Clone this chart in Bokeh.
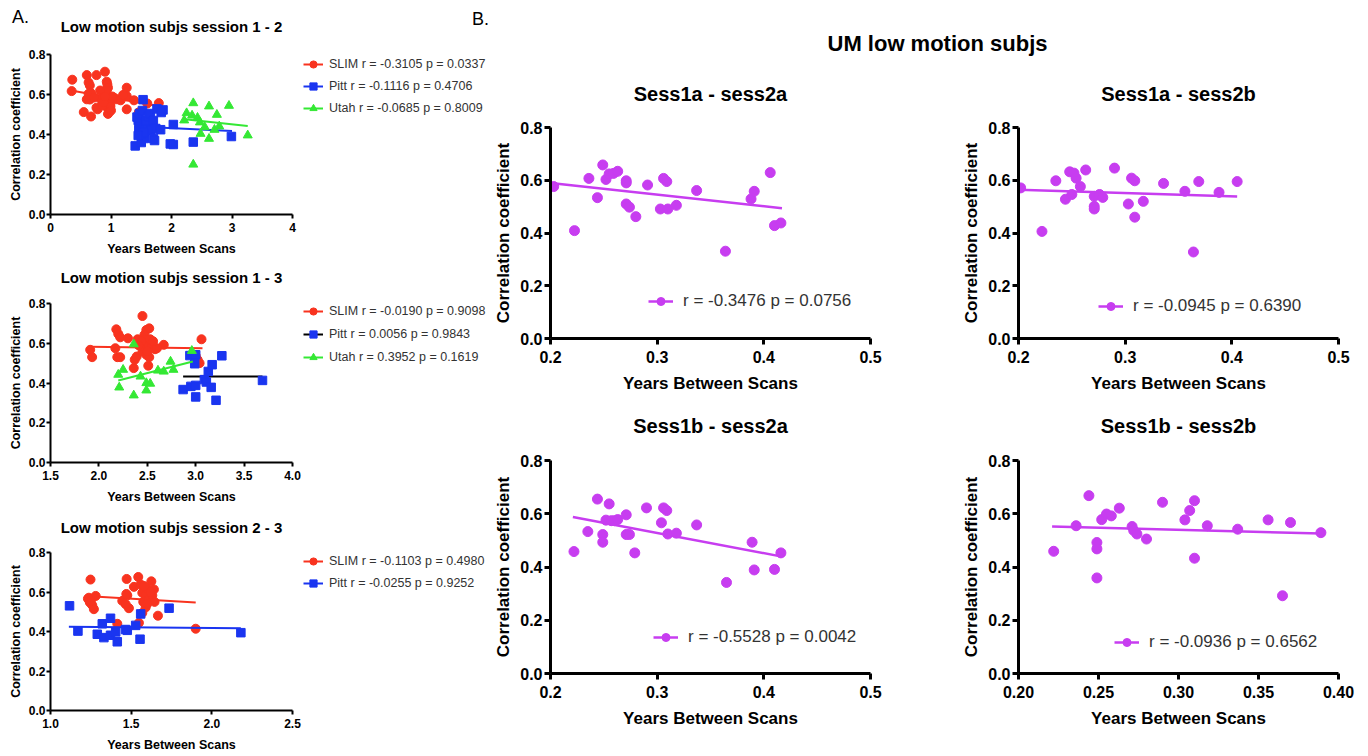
from bokeh.plotting import figure
from bokeh.layouts import row, column
from bokeh.models import Range1d, FixedTicker, Legend, LegendItem, Label
from bokeh.embed import file_html
from bokeh.resources import INLINE

FONT = "Liberation Sans"
RED = "#F8331F"
BLUE = "#1A35F0"
GREEN = "#34E834"
PURPLE = "#C73DF0"

# ---------------- Panel A, session 1 - 2 ----------------
a12_slim_x = [0.36, 0.35, 0.60, 0.76, 0.90, 0.63, 0.65, 0.93, 0.94, 0.95, 0.93, 0.63, 0.67, 0.60, 0.65,
              0.83, 0.82, 1.05, 1.10, 1.26, 1.26, 1.26, 1.38, 0.95, 0.99, 0.93, 0.99, 0.97, 0.95, 0.55,
              0.67, 0.78, 0.76, 0.86, 1.46, 1.79, 1.16, 0.88, 1.02, 0.72, 1.00, 0.90, 1.60, 1.20]
a12_slim_y = [0.674, 0.617, 0.697, 0.697, 0.714, 0.660, 0.645, 0.664, 0.651, 0.634, 0.620, 0.604, 0.607, 0.576, 0.575,
              0.577, 0.620, 0.584, 0.576, 0.634, 0.592, 0.526, 0.571, 0.570, 0.553, 0.537, 0.540, 0.512, 0.503, 0.512,
              0.490, 0.526, 0.534, 0.546, 0.511, 0.557, 0.571, 0.560, 0.590, 0.585, 0.520, 0.590, 0.555, 0.598]
a12_pitt_x = [1.40, 1.53, 1.43, 1.45, 1.47, 1.48, 1.46, 1.50, 1.49, 1.52, 1.55, 1.47, 1.52, 1.56, 1.60, 1.58, 1.62,
              1.65, 1.66, 1.70, 1.70, 1.72, 1.74, 1.76, 1.86, 1.82, 1.83, 2.03, 1.98, 2.03, 2.36, 2.99, 1.50, 1.54, 1.45]
a12_pitt_y = [0.343, 0.574, 0.487, 0.470, 0.455, 0.440, 0.425, 0.415, 0.400, 0.390, 0.380, 0.505, 0.520, 0.450, 0.437,
              0.470, 0.490, 0.505, 0.420, 0.380, 0.470, 0.370, 0.430, 0.528, 0.523, 0.424, 0.510, 0.450, 0.353, 0.350,
              0.362, 0.390, 0.360, 0.410, 0.395]
a12_utah_x = [2.36, 2.62, 2.95, 2.75, 2.25, 2.43, 2.21, 2.47, 2.71, 2.48, 2.62, 2.79, 3.26, 2.36, 2.55, 2.34]
a12_utah_y = [0.557, 0.541, 0.544, 0.499, 0.507, 0.484, 0.471, 0.461, 0.424, 0.404, 0.379, 0.441, 0.396, 0.250, 0.437, 0.495]
a12_slim_fit_x = [0.34, 1.82]
a12_slim_fit_y = [0.620, 0.540]
a12_pitt_fit_x = [1.43, 3.00]
a12_pitt_fit_y = [0.440, 0.418]
a12_utah_fit_x = [2.18, 3.26]
a12_utah_fit_y = [0.478, 0.443]
a12_labels = ["SLIM r = -0.3105 p = 0.0337", "Pitt r = -0.1116 p = 0.4706", "Utah r = -0.0685 p = 0.8009"]

# ---------------- Panel A, session 1 - 3 ----------------
a13_slim_x = [1.91, 1.93, 2.18, 2.20, 2.22, 2.17, 2.19, 2.22, 2.30, 2.40, 2.45, 2.36, 2.37, 2.39, 2.45, 2.49, 2.52,
              2.47, 2.48, 2.52, 2.53, 2.46, 2.55, 2.49, 2.52, 2.51, 2.58, 2.67, 2.60, 2.43, 3.00, 3.02, 3.04, 3.06,
              2.50, 2.44, 2.41, 2.56]
a13_slim_y = [0.567, 0.530, 0.670, 0.647, 0.630, 0.575, 0.530, 0.530, 0.625, 0.620, 0.737, 0.475, 0.517, 0.533, 0.558,
              0.667, 0.675, 0.642, 0.617, 0.600, 0.620, 0.583, 0.583, 0.542, 0.530, 0.487, 0.570, 0.592, 0.575, 0.597,
              0.537, 0.517, 0.500, 0.620, 0.560, 0.610, 0.590, 0.610]
a13_pitt_x = [2.94, 3.00, 2.99, 2.87, 2.95, 3.00, 3.00, 3.09, 3.11, 3.13, 3.17, 3.16, 3.21, 3.27, 3.69]
a13_pitt_y = [0.538, 0.542, 0.497, 0.367, 0.383, 0.388, 0.330, 0.417, 0.405, 0.458, 0.492, 0.378, 0.313, 0.537, 0.413]
a13_utah_x = [2.36, 2.20, 2.21, 2.25, 2.36, 2.43, 2.49, 2.53, 2.49, 2.61, 2.67, 2.74, 2.77, 2.96]
a13_utah_y = [0.595, 0.442, 0.378, 0.467, 0.338, 0.433, 0.400, 0.397, 0.363, 0.463, 0.458, 0.508, 0.467, 0.562]
a13_slim_fit_x = [1.91, 3.07]
a13_slim_fit_y = [0.582, 0.575]
a13_pitt_fit_x = [2.87, 3.69]
a13_pitt_fit_y = [0.433, 0.433]
a13_utah_fit_x = [2.20, 2.97]
a13_utah_fit_y = [0.413, 0.508]
a13_labels = ["SLIM r = -0.0190 p = 0.9098", "Pitt r = 0.0056 p = 0.9843", "Utah r = 0.3952 p = 0.1619"]

# ---------------- Panel A, session 2 - 3 ----------------
a23_slim_x = [1.248, 1.232, 1.244, 1.238, 1.259, 1.269, 1.280, 1.414, 1.445, 1.472, 1.476, 1.486, 1.466, 1.517,
              1.544, 1.559, 1.569, 1.575, 1.569, 1.548, 1.590, 1.590, 1.600, 1.610, 1.625, 1.631, 1.641, 1.645,
              1.666, 1.900, 1.580, 1.600, 1.470, 1.250, 1.620]
a23_slim_y = [0.663, 0.566, 0.547, 0.571, 0.533, 0.513, 0.580, 0.439, 0.555, 0.666, 0.583, 0.518, 0.538, 0.626,
              0.676, 0.638, 0.596, 0.550, 0.494, 0.444, 0.522, 0.583, 0.616, 0.563, 0.654, 0.583, 0.613, 0.550,
              0.480, 0.414, 0.630, 0.540, 0.590, 0.555, 0.600]
a23_pitt_x = [1.118, 1.170, 1.290, 1.321, 1.331, 1.372, 1.372, 1.404, 1.414, 1.476, 1.465, 1.528, 1.555, 1.559,
              1.735, 2.180]
a23_pitt_y = [0.530, 0.402, 0.386, 0.439, 0.369, 0.467, 0.381, 0.398, 0.348, 0.406, 0.410, 0.431, 0.361, 0.489,
              0.518, 0.394]
a23_slim_fit_x = [1.217, 1.90]
a23_slim_fit_y = [0.580, 0.547]
a23_pitt_fit_x = [1.114, 2.18]
a23_pitt_fit_y = [0.424, 0.417]
a23_labels = ["SLIM r = -0.1103 p = 0.4980", "Pitt r = -0.0255 p = 0.9252"]

# ---------------- Panel B ----------------
b1_x = [0.203, 0.2225, 0.236, 0.244, 0.249, 0.252, 0.255, 0.259, 0.263, 0.271, 0.271, 0.271, 0.274, 0.280,
        0.291, 0.303, 0.306, 0.309, 0.310, 0.318, 0.337, 0.364, 0.388, 0.391, 0.406, 0.410, 0.416]
b1_y = [0.576, 0.409, 0.607, 0.534, 0.658, 0.603, 0.624, 0.626, 0.634, 0.598, 0.590, 0.510, 0.498, 0.462,
        0.582, 0.491, 0.607, 0.595, 0.491, 0.505, 0.561, 0.331, 0.529, 0.558, 0.629, 0.428, 0.438]
b1_fit_x = [0.200, 0.417]
b1_fit_y = [0.590, 0.494]

b2_x = [0.202, 0.222, 0.235, 0.244, 0.248, 0.250, 0.252, 0.254, 0.258, 0.263, 0.271, 0.271, 0.271, 0.276,
        0.279, 0.290, 0.303, 0.306, 0.309, 0.309, 0.317, 0.336, 0.356, 0.364, 0.369, 0.388, 0.405]
b2_y = [0.571, 0.406, 0.598, 0.528, 0.632, 0.546, 0.627, 0.608, 0.576, 0.639, 0.539, 0.501, 0.491, 0.546,
        0.535, 0.646, 0.510, 0.608, 0.598, 0.460, 0.520, 0.588, 0.558, 0.328, 0.595, 0.554, 0.595]
b2_fit_x = [0.200, 0.405]
b2_fit_y = [0.564, 0.538]

b3_x = [0.222, 0.235, 0.244, 0.249, 0.249, 0.252, 0.255, 0.257, 0.260, 0.263, 0.271, 0.271, 0.274, 0.279,
        0.290, 0.304, 0.306, 0.309, 0.310, 0.318, 0.337, 0.365, 0.389, 0.391, 0.410, 0.416]
b3_y = [0.458, 0.533, 0.655, 0.522, 0.493, 0.576, 0.637, 0.574, 0.574, 0.578, 0.596, 0.522, 0.522, 0.453,
        0.622, 0.566, 0.622, 0.612, 0.524, 0.527, 0.558, 0.342, 0.493, 0.389, 0.391, 0.453]
b3_fit_x = [0.221, 0.417]
b3_fit_y = [0.588, 0.439]

b4_x = [0.222, 0.236, 0.244, 0.249, 0.249, 0.249, 0.252, 0.255, 0.258, 0.263, 0.271, 0.272, 0.274, 0.280,
        0.290, 0.304, 0.307, 0.310, 0.310, 0.318, 0.337, 0.356, 0.365, 0.370, 0.389]
b4_y = [0.459, 0.555, 0.668, 0.492, 0.468, 0.359, 0.578, 0.599, 0.592, 0.621, 0.552, 0.537, 0.524, 0.505,
        0.643, 0.577, 0.612, 0.649, 0.433, 0.555, 0.542, 0.577, 0.292, 0.567, 0.529]
b4_fit_x = [0.221, 0.389]
b4_fit_y = [0.552, 0.526]

b_titles = ["Sess1a - sess2a", "Sess1a - sess2b", "Sess1b - sess2a", "Sess1b - sess2b"]
b_labels = ["r = -0.3476 p = 0.0756", "r = -0.0945 p = 0.6390", "r = -0.5528 p = 0.0042", "r = -0.0936 p = 0.6562"]
a_titles = ["Low motion subjs session 1 - 2", "Low motion subjs session 1 - 3", "Low motion subjs session 2 - 3"]

y_ticks = [0.0, 0.2, 0.4, 0.6, 0.8]
y_tick_labels = ["0.0", "0.2", "0.4", "0.6", "0.8"]
a12_x_ticks = [0, 1, 2, 3, 4]
a12_x_tick_labels = ["0", "1", "2", "3", "4"]
a13_x_ticks = [1.5, 2.0, 2.5, 3.0, 3.5, 4.0]
a13_x_tick_labels = ["1.5", "2.0", "2.5", "3.0", "3.5", "4.0"]
a23_x_ticks = [1.0, 1.5, 2.0, 2.5]
a23_x_tick_labels = ["1.0", "1.5", "2.0", "2.5"]
b_x_ticks = [0.2, 0.3, 0.4, 0.5]
b_x_tick_labels = ["0.2", "0.3", "0.4", "0.5"]
b4_x_ticks = [0.20, 0.25, 0.30, 0.35, 0.40]
b4_x_tick_labels = ["0.20", "0.25", "0.30", "0.35", "0.40"]

XLAB = "Years Between Scans"
YLAB = "Correlation coefficient"


def blank(w, h, xr, yr):
    p = figure(width=w, height=h, x_range=Range1d(*xr), y_range=Range1d(*yr),
               toolbar_location=None, output_backend="svg", min_border=0,
               x_axis_location=None, y_axis_location=None)
    p.outline_line_color = None
    p.xgrid.visible = False
    p.ygrid.visible = False
    return p


def header(w, h, texts):
    p = blank(w, h, (0, w), (h, 0))
    for x, y, t, size, bold in texts:
        p.add_layout(Label(x=x, y=y, text=t, text_align="center", text_baseline="middle",
                           text_font=FONT, text_font_style="bold" if bold else "normal",
                           text_font_size=size, text_color="black"))
    return p


def panel(width, height, bl, bt, fw, fh, xr, xticks, xlabels, big):
    p = figure(width=width, height=height, x_range=Range1d(*xr), y_range=Range1d(0, 0.8),
               toolbar_location=None, output_backend="svg",
               min_border_left=bl, min_border_right=width - bl - fw,
               min_border_top=bt, min_border_bottom=height - bt - fh)
    p.outline_line_color = None
    p.xgrid.visible = False
    p.ygrid.visible = False
    p.xaxis.axis_label = XLAB
    p.yaxis.axis_label = YLAB
    p.xaxis.ticker = FixedTicker(ticks=xticks)
    p.xaxis.major_label_overrides = dict(zip(xticks, xlabels))
    p.yaxis.ticker = FixedTicker(ticks=y_ticks)
    p.yaxis.major_label_overrides = dict(zip(y_ticks, y_tick_labels))
    if big:
        tfs, lfs, lw, tout = "16px", "17px", 3, 6
    else:
        tfs, lfs, lw, tout = "12px", "12.5px", 2, 4
    for ax in list(p.xaxis) + list(p.yaxis):
        ax.axis_line_width = lw
        ax.axis_line_color = "black"
        ax.major_tick_line_width = lw
        ax.major_tick_line_color = "black"
        ax.major_tick_in = 0
        ax.major_tick_out = tout
        ax.minor_tick_line_color = None
        ax.major_label_text_font = FONT
        ax.major_label_text_font_style = "bold"
        ax.major_label_text_font_size = tfs
        ax.major_label_text_color = "black"
        ax.axis_label_text_font = FONT
        ax.axis_label_text_font_style = "bold"
        ax.axis_label_text_font_size = lfs
        ax.axis_label_text_color = "black"
    if big:
        p.xaxis.major_label_standoff = 6
        p.yaxis.major_label_standoff = 2
        p.xaxis.axis_label_standoff = 8
        p.yaxis.axis_label_standoff = 4
    else:
        p.xaxis.major_label_standoff = 4
        p.yaxis.major_label_standoff = 1
        p.xaxis.axis_label_standoff = 7
        p.yaxis.axis_label_standoff = 3
    return p


def one_legend(p, label, renderers, x, y, fs, gw, gh, standoff):
    leg = Legend(items=[LegendItem(label=label, renderers=renderers)], location=(x, y),
                 padding=0, margin=0, spacing=0, glyph_width=gw, glyph_height=gh,
                 label_height=gh, label_standoff=standoff, border_line_color=None,
                 background_fill_alpha=0, label_text_font=FONT, label_text_font_size=fs,
                 label_text_color="#333333")
    p.add_layout(leg)


def legend_fig(w, h, entries):
    # legend keys only: the series are re-plotted here far outside the visible range
    lf = blank(w, h, (100, 101), (100, 101))
    for label, xs, ys, fx, fy, color, marker, line_color, ypos in entries:
        lr = lf.line(fx, fy, line_color=line_color, line_width=2)
        sr = lf.scatter(xs, ys, marker=marker, size=7, fill_color=color, line_color=color)
        one_legend(lf, label, [lr, sr], 1, ypos, "12.5px", 20, 18, 6)
    return lf


def series(p, xs, ys, fx, fy, color, marker, size, lw, line_color=None):
    lr = p.line(fx, fy, line_color=line_color or color, line_width=lw)
    sr = p.scatter(xs, ys, marker=marker, size=size, fill_color=color, line_color=color)
    return [lr, sr]


# ---------------- Left column (Panel A) ----------------
LW = 490
PW = 302
GW = LW - PW

ha1 = header(LW, 40, [(20, 16, "A.", "18px", False), (480, 18, "B.", "18px", False),
                      (171, 26, a_titles[0], "15px", True)])
pa1 = panel(PW, 218, 50, 14, 242, 160, (0, 4), a12_x_ticks, a12_x_tick_labels, False)
series(pa1, a12_slim_x, a12_slim_y, a12_slim_fit_x, a12_slim_fit_y, RED, "circle", 9, 2)
series(pa1, a12_pitt_x, a12_pitt_y, a12_pitt_fit_x, a12_pitt_fit_y, BLUE, "square", 8.5, 2)
series(pa1, a12_utah_x, a12_utah_y, a12_utah_fit_x, a12_utah_fit_y, GREEN, "triangle", 9, 2)
lg1 = legend_fig(GW, 218, [
    (a12_labels[0], a12_slim_x, a12_slim_y, a12_slim_fit_x, a12_slim_fit_y, RED, "circle", RED, 141),
    (a12_labels[1], a12_pitt_x, a12_pitt_y, a12_pitt_fit_x, a12_pitt_fit_y, BLUE, "square", BLUE, 119),
    (a12_labels[2], a12_utah_x, a12_utah_y, a12_utah_fit_x, a12_utah_fit_y, GREEN, "triangle", GREEN, 97)])

ha2 = header(LW, 32, [(171, 19, a_titles[1], "15px", True)])
pa2 = panel(PW, 216, 50, 13, 242, 160, (1.5, 4.0), a13_x_ticks, a13_x_tick_labels, False)
series(pa2, a13_slim_x, a13_slim_y, a13_slim_fit_x, a13_slim_fit_y, RED, "circle", 9, 2)
series(pa2, a13_pitt_x, a13_pitt_y, a13_pitt_fit_x, a13_pitt_fit_y, BLUE, "square", 8.5, 2, "black")
series(pa2, a13_utah_x, a13_utah_y, a13_utah_fit_x, a13_utah_fit_y, GREEN, "triangle", 9, 2)
lg2 = legend_fig(GW, 216, [
    (a13_labels[0], a13_slim_x, a13_slim_y, a13_slim_fit_x, a13_slim_fit_y, RED, "circle", RED, 142),
    (a13_labels[1], a13_pitt_x, a13_pitt_y, a13_pitt_fit_x, a13_pitt_fit_y, BLUE, "square", "black", 119),
    (a13_labels[2], a13_utah_x, a13_utah_y, a13_utah_fit_x, a13_utah_fit_y, GREEN, "triangle", GREEN, 96)])

ha3 = header(LW, 32, [(171, 21, a_titles[2], "15px", True)])
pa3 = panel(PW, 216, 50, 14, 242, 160, (1.0, 2.5), a23_x_ticks, a23_x_tick_labels, False)
series(pa3, a23_slim_x, a23_slim_y, a23_slim_fit_x, a23_slim_fit_y, RED, "circle", 9, 2)
series(pa3, a23_pitt_x, a23_pitt_y, a23_pitt_fit_x, a23_pitt_fit_y, BLUE, "square", 8.5, 2)
lg3 = legend_fig(GW, 216, [
    (a23_labels[0], a23_slim_x, a23_slim_y, a23_slim_fit_x, a23_slim_fit_y, RED, "circle", RED, 140),
    (a23_labels[1], a23_pitt_x, a23_pitt_y, a23_pitt_fit_x, a23_pitt_fit_y, BLUE, "square", BLUE, 118)])

left_col = column(ha1, row(pa1, lg1), ha2, row(pa2, lg2), ha3, row(pa3, lg3))

# ---------------- Right column (Panel B) ----------------
RW = 870
hb1 = header(RW, 112, [(447, 43, "UM low motion subjs", "22px", True),
                       (220, 93, b_titles[0], "20px", True), (688, 93, b_titles[1], "20px", True)])

pb1 = panel(454, 288, 60, 15, 320, 211, (0.2, 0.5), b_x_ticks, b_x_tick_labels, True)
rb = series(pb1, b1_x, b1_y, b1_fit_x, b1_fit_y, PURPLE, "circle", 10, 2.5)
one_legend(pb1, b_labels[0], rb, 98, 27, "17px", 25, 20, 10)

pb2 = panel(416, 288, 74, 15, 320, 211, (0.2, 0.5), b_x_ticks, b_x_tick_labels, True)
rb = series(pb2, b2_x, b2_y, b2_fit_x, b2_fit_y, PURPLE, "circle", 10, 2.5)
one_legend(pb2, b_labels[1], rb, 80, 22, "17px", 25, 20, 10)

hb2 = header(RW, 45, [(220, 25, b_titles[2], "20px", True), (688, 25, b_titles[3], "20px", True)])

pb3 = panel(454, 309, 60, 15, 320, 213, (0.2, 0.5), b_x_ticks, b_x_tick_labels, True)
rb = series(pb3, b3_x, b3_y, b3_fit_x, b3_fit_y, PURPLE, "circle", 10, 2.5)
one_legend(pb3, b_labels[2], rb, 103, 26, "17px", 25, 20, 10)

pb4 = panel(416, 309, 74, 15, 320, 213, (0.2, 0.4), b4_x_ticks, b4_x_tick_labels, True)
rb = series(pb4, b4_x, b4_y, b4_fit_x, b4_fit_y, PURPLE, "circle", 10, 2.5)
one_legend(pb4, b_labels[3], rb, 96, 21, "17px", 25, 20, 10)

right_col = column(hb1, row(pb1, pb2), hb2, row(pb3, pb4))
layout = row(left_col, right_col)

open("out.html", "w").write(file_html(layout, INLINE))
